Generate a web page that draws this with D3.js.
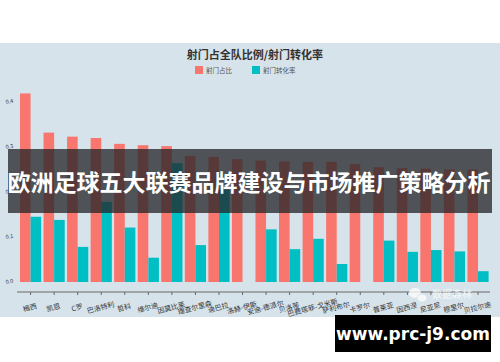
<!DOCTYPE html>
<html>
<head>
<meta charset="utf-8">
<script src="https://cdn.jsdelivr.net/npm/d3@7"></script>
<style>
  body { margin: 0; background: #fff; }
  svg { display: block; font-family: "Noto Sans CJK SC", "Noto Sans", sans-serif; }
</style>
</head>
<body>
<svg id="chart" width="500" height="362"></svg>
<script>
// DATA
var players = ['梅西', '凯恩', 'C罗', '巴洛特利', '哲科', '维尔迪', '因莫比莱', '理查尔里森', '迪巴拉', '洛赫-伊斯',
               '安迪-德派尔', '贝洛蒂', '巴费塔菲-戈米斯', '萨利布尔', '卡罗尔', '普莱亚', '因西涅', '尼亚尼', '穆里尔', '贝拉尔迪'];
var shotShare = [0.419, 0.332, 0.323, 0.320, 0.307, 0.304, 0.302, 0.280, 0.278, 0.273,
                 0.270, 0.268, 0.267, 0.267, 0.262, 0.255, 0.253, 0.252, 0.250, 0.250];
var convRate = [0.145, 0.138, 0.078, 0.178, 0.121, 0.054, 0.264, 0.082, 0.205, 0,
                0.117, 0.073, 0.096, 0.040, 0, 0.092, 0.067, 0.071, 0.068, 0.024];
var seriesNames = ['射门占比', '射门转化率'];
var seriesColors = ['#f8766d', '#00bfc4'];
var yTicks = [0, 0.1, 0.2, 0.3, 0.4];

var svg = d3.select('#chart');

// Panel background
svg.append('rect')
    .attr('x', 0).attr('y', 43)
    .attr('width', 500).attr('height', 274)
    .attr('fill', '#d7e3ea');

// Title
svg.append('text')
    .attr('x', 255).attr('y', 59)
    .attr('text-anchor', 'middle')
    .style('font-size', '11px')
    .style('font-weight', 'bold')
    .attr('fill', '#333')
    .text('射门占全队比例/射门转化率');

// Legend
var legendX = [195, 252];
seriesNames.forEach(function(name, i) {
    svg.append('rect')
        .attr('x', legendX[i]).attr('y', 66)
        .attr('width', 8).attr('height', 8)
        .attr('fill', seriesColors[i]);
    svg.append('text')
        .attr('x', legendX[i] + 11).attr('y', 73)
        .style('font-size', '6.5px')
        .attr('fill', '#555')
        .text(name);
});

// Scales
var x = d3.scaleBand()
            .domain(players)
            .range([18.8, 489.8])
            .paddingInner(0.1)
            .paddingOuter(0.05);
var xSub = d3.scaleBand()
            .domain(seriesNames)
            .range([0, x.bandwidth()]);
var y = d3.scaleLinear()
            .domain([0, 0.1])
            .range([282, 237]);

// Y tick labels
svg.selectAll('text.ytick')
    .data(yTicks)
    .enter()
    .append('text')
    .attr('class', 'ytick')
    .attr('transform', function(d) { return 'translate(6,' + (y(d) + 2) + ') rotate(-10)'; })
    .style('font-size', '5.5px')
    .attr('fill', '#333')
    .text(function(d) { return d.toFixed(1); });

// Bars
var rows = players.map(function(p, i) {
    return { name: p, values: [shotShare[i], convRate[i]] };
});
var groups = svg.selectAll('g.grp')
    .data(rows)
    .enter()
    .append('g')
    .attr('class', 'grp')
    .attr('transform', function(d) { return 'translate(' + x(d.name) + ',0)'; });
groups.selectAll('rect')
    .data(function(d) { return d.values.map(function(v, i) { return { key: seriesNames[i], v: v, c: seriesColors[i] }; }); })
    .enter()
    .append('rect')
    .attr('x', function(d) { return xSub(d.key); })
    .attr('y', function(d) { return y(d.v); })
    .attr('width', xSub.bandwidth())
    .attr('height', function(d) { return y(0) - y(d.v); })
    .attr('fill', function(d) { return d.c; });

// X axis
var xAxis = svg.append('g')
    .attr('transform', 'translate(0,292)')
    .call(d3.axisBottom(x).tickSize(3).tickSizeOuter(0).tickFormat(''));
xAxis.select('.domain').attr('stroke', '#666').attr('d', 'M17,0H490');
xAxis.selectAll('.tick line').attr('stroke', '#666');

svg.selectAll('text.xlab')
    .data(players)
    .enter()
    .append('text')
    .attr('class', 'xlab')
    .attr('transform', function(d) { return 'translate(' + (x(d) + x.bandwidth() / 2) + ',310) rotate(-15)'; })
    .attr('text-anchor', 'middle')
    .style('font-size', '7px')
    .attr('fill', '#333')
    .text(function(d) { return d; });

// Watermark
var wm = svg.append('g').attr('opacity', 0.75);
wm.append('ellipse').attr('cx', 415).attr('cy', 293).attr('rx', 6).attr('ry', 5).attr('fill', '#fff');
wm.append('ellipse').attr('cx', 422).attr('cy', 298).attr('rx', 5).attr('ry', 4).attr('fill', '#fff').attr('stroke', '#d7e3ea').attr('stroke-width', 1);
wm.append('text')
    .attr('x', 432).attr('y', 298)
    .style('font-size', '10px')
    .attr('fill', '#fff')
    .text('数据森林');

// Overlay banner
svg.append('rect')
    .attr('x', 8).attr('y', 149)
    .attr('width', 484).attr('height', 64)
    .attr('fill', 'rgba(35,38,41,0.76)');
svg.append('text')
    .attr('x', 249).attr('y', 191)
    .attr('text-anchor', 'middle')
    .style('font-size', '23px')
    .style('font-weight', 'bold')
    .attr('fill', '#fff')
    .text('欧洲足球五大联赛品牌建设与市场推广策略分析');

// Site badge
svg.append('rect')
    .attr('x', 335).attr('y', 315)
    .attr('width', 156).attr('height', 37)
    .attr('fill', '#000');
svg.append('text')
    .attr('x', 413).attr('y', 340)
    .attr('text-anchor', 'middle')
    .style('font-family', '"DejaVu Sans", sans-serif')
    .style('font-size', '17px')
    .style('font-weight', 'bold')
    .attr('fill', '#fff')
    .text('www.prc-j9.com');
</script>
</body>
</html>
